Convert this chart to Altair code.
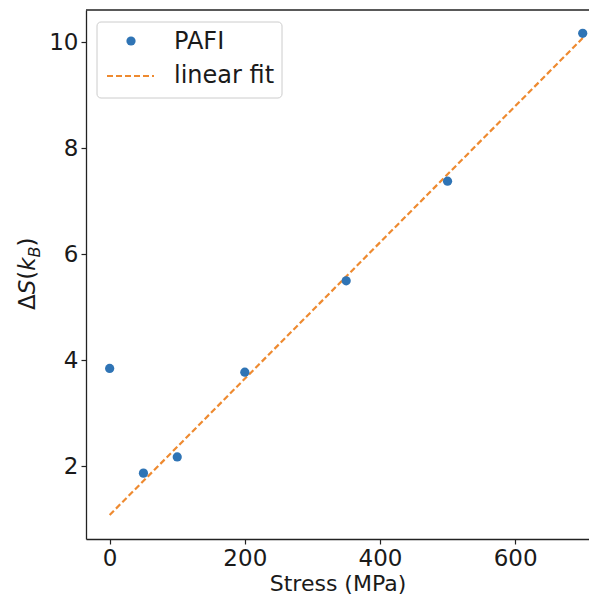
import altair as alt
import pandas as pd

# Data
stress = [0, 50, 100, 200, 350, 500, 700]
delta_s = [3.845, 1.87, 2.175, 3.775, 5.50, 7.38, 10.17]
fit_x = [0, 700]
fit_y = [1.08, 10.08]
series_names = ["PAFI", "linear fit"]
x_ticks = [0, 200, 400, 600]
y_ticks = [2, 4, 6, 8, 10]

BLUE = "#2f74b5"
ORANGE = "#ee8a30"
FONT = "DejaVu Sans"
W, H = 503, 529

pts = pd.DataFrame({"stress": stress, "ds": delta_s})
fit = pd.DataFrame({"stress": fit_x, "ds": fit_y})
one = pd.DataFrame({"k": [0]})

xscale = alt.Scale(domain=[-35, 709.3], nice=False, zero=False)
yscale = alt.Scale(domain=[0.627, 10.61], nice=False, zero=False)

xaxis = alt.Axis(values=x_ticks, title="Stress (MPa)", grid=False)
yaxis = alt.Axis(values=y_ticks, title=None, grid=False)

line = alt.Chart(fit).mark_line(color=ORANGE, strokeWidth=2.2, strokeDash=[6, 3]).encode(
    x=alt.X("stress:Q", scale=xscale, axis=xaxis),
    y=alt.Y("ds:Q", scale=yscale, axis=yaxis),
)
points = alt.Chart(pts).mark_circle(color=BLUE, size=85, opacity=1).encode(
    x=alt.X("stress:Q", scale=xscale),
    y=alt.Y("ds:Q", scale=yscale),
)

top_border = alt.Chart(one).mark_rule(color="#222", strokeWidth=1.3).encode(
    x=alt.value(0), x2=alt.value(W), y=alt.value(0)
)

# Manual legend
leg_box = alt.Chart(one).mark_rect(
    fill="white", fillOpacity=0.8, stroke="#cccccc", strokeWidth=1, cornerRadius=4
).encode(x=alt.value(11), x2=alt.value(196), y=alt.value(12), y2=alt.value(88))
leg_dot = alt.Chart(one).mark_circle(color=BLUE, size=85, opacity=1).encode(
    x=alt.value(45), y=alt.value(31)
)
leg_dash = alt.Chart(one).mark_rule(color=ORANGE, strokeWidth=2.2, strokeDash=[6, 3]).encode(
    x=alt.value(21), x2=alt.value(68), y=alt.value(66)
)
leg_t1 = alt.Chart(one).mark_text(
    text=series_names[0], font=FONT, fontSize=24, align="left", baseline="alphabetic", color="#1a1a1a"
).encode(x=alt.value(88), y=alt.value(39))
leg_t2 = alt.Chart(one).mark_text(
    text=series_names[1], font=FONT, fontSize=24, align="left", baseline="alphabetic", color="#1a1a1a"
).encode(x=alt.value(88), y=alt.value(73))

# Y title composed of pieces: ΔS(k_B)
def piece(txt, y, x=-51, size=23, style="normal"):
    return alt.Chart(one).mark_text(
        text=txt, font=FONT, fontSize=size, fontStyle=style, angle=270,
        align="left", baseline="alphabetic", color="#1a1a1a"
    ).encode(x=alt.value(x), y=alt.value(y))

ytitle = [
    piece("Δ", 300),
    piece("S", 284.3, style="italic"),
    piece("(", 269.7),
    piece("k", 260.7, style="italic"),
    piece("B", 247.4, x=-46.5, size=16.1, style="italic"),
    piece(")", 236.4),
]

chart = alt.layer(
    line, points, top_border, leg_box, leg_dot, leg_dash, leg_t1, leg_t2, *ytitle
).properties(
    width=W, height=H,
    autosize="none",
    padding={"left": 78, "top": 2, "right": 0, "bottom": 58},
).configure_view(stroke=None).configure_axis(
    labelFont=FONT, labelFontSize=23, labelColor="#1a1a1a",
    titleFont=FONT, titleFontSize=22, titleFontWeight="normal", titleColor="#1a1a1a",
    domainColor="#222", domainWidth=1.3, tickColor="#222", tickWidth=1.2, tickSize=5,
    labelPadding=3, titlePadding=3,
)

chart.save("out.html", embed_options={"renderer": "svg", "actions": False})
